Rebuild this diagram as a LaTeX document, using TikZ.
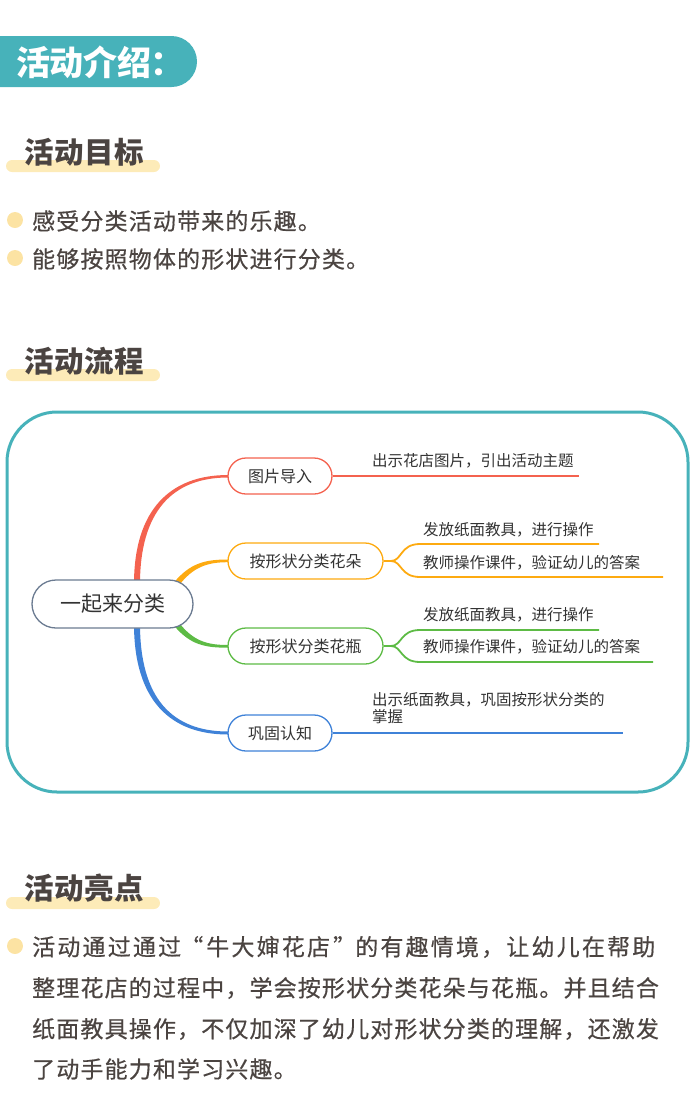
\documentclass[tikz,border=0pt]{standalone}
\usepackage{fontspec}
\newfontfamily\cjk{Noto Sans CJK SC}
\newfontfamily\cjkbody[LetterSpace=5,FakeBold=0.5]{Noto Sans CJK SC}
\newfontfamily\cjkbodywide[LetterSpace=9.5,FakeBold=0.5]{Noto Sans CJK SC}
\newfontfamily\cjkhead[LetterSpace=2]{Noto Sans CJK SC}
\newfontfamily\cjktitle[LetterSpace=-1]{Noto Sans CJK SC}
\newcommand{\myopenq}{\makebox[25.2pt][r]{“\hspace{3pt}}}
\newcommand{\mycloseq}{\makebox[25.2pt][l]{\hspace{3pt}”}}
\definecolor{tealc}{HTML}{47B2BA}
\definecolor{barc}{HTML}{FDEBB8}
\definecolor{dotc}{HTML}{FCE3A3}
\definecolor{textc}{HTML}{4B4441}
\definecolor{mapt}{HTML}{333333}
\definecolor{cred}{HTML}{F4624F}
\definecolor{corange}{HTML}{FDAA10}
\definecolor{cgreen}{HTML}{5DBB45}
\definecolor{cblue}{HTML}{3F82D8}
\definecolor{cgray}{HTML}{6B7B91}
\tikzset{
  heading/.style={font=\cjkhead\bfseries\fontsize{29.5}{29.5}\selectfont, text=textc, anchor=west, inner sep=0},
  headbar/.style={fill=barc, rounded corners=6},
  bodytext/.style={font=\cjkbody\fontsize{23}{23}\selectfont, text=textc, anchor=west, inner sep=0},
  dotmark/.style={fill=dotc, circle, minimum size=16, inner sep=0},
  branch/.style={draw=#1, fill=white, line width=1.3, rounded corners=18, minimum height=36, inner sep=0, font=\cjk\fontsize{16}{16}\selectfont, text=mapt},
  leaf/.style={font=\cjk\fontsize{15.5}{17}\selectfont, text=mapt, anchor=west, inner sep=0, align=left},
  leafline/.style={draw=#1, line width=1.8},
}
\begin{document}
\begin{tikzpicture}[x=1pt,y=-1pt]
\useasboundingbox (0,0) rectangle (700,1120);

% title banner
\fill[tealc, rounded corners=25.5] (-40,36) rectangle (197,87);
\node[font=\cjktitle\bfseries\fontsize{34}{34}\selectfont, text=white, anchor=west, inner sep=0] (title) at (16,62) {活动介绍：};

% section 1
\fill[headbar] (6,160) rectangle (160,172);
\node[heading] (h1) at (24,152) {活动目标};
\node[dotmark] (d1) at (15,220) {};
\node[bodytext] (b1) at (32,221) {感受分类活动带来的乐趣。};
\node[dotmark] (d2) at (15,258) {};
\node[bodytext] (b2) at (32,259) {能够按照物体的形状进行分类。};

% section 2
\fill[headbar] (6,369) rectangle (160,381);
\node[heading] (h2) at (24,361) {活动流程};

\draw[tealc, line width=3, rounded corners=50] (7,412) rectangle (688,792);

% tapered main connectors
\fill[cred] (134,584) .. controls (134,510) and (170,475) .. (228,475) -- (228,477.5) .. controls (172,477.5) and (140,512) .. (140,584) -- cycle;
\fill[corange] (173.5,583) .. controls (190,563) and (205,559.5) .. (228,559.5) -- (228,562.2) .. controls (207,562.2) and (193,567) .. (178.5,586) -- cycle;
\fill[cgreen] (173.5,625) .. controls (190,645) and (205,647.7) .. (228,647.7) -- (228,645) .. controls (207,645) and (193,641) .. (178.5,622) -- cycle;
\fill[cblue] (134,624) .. controls (134,700) and (170,734.5) .. (228,734.5) -- (228,731.5) .. controls (172,731.5) and (140,698) .. (140,624) -- cycle;

% nodes
\node[draw=cgray, fill=white, line width=1.3, rounded corners=24, minimum width=161, minimum height=48, inner sep=0, font=\cjk\fontsize{21}{21}\selectfont, text=mapt] (root) at (112.5,604) {一起来分类};
\node[branch=cred, minimum width=104] (n1) at (280,476) {图片导入};
\node[branch=corange, minimum width=155] (n2) at (305.5,561) {按形状分类花朵};
\node[branch=cgreen, minimum width=155] (n3) at (305.5,646) {按形状分类花瓶};
\node[branch=cblue, minimum width=104] (n4) at (280,733) {巩固认知};

% leaf 1
\coordinate (e1) at (579,476);
\draw[leafline=cred] (n1.east) -- (e1);
\node[leaf] (l1) at (372,461) {出示花店图片，引出活动主题};

% leaf 2 (flowers)
\coordinate (j2) at (391,561);
\coordinate (e2a) at (599,544);
\coordinate (e2b) at (663,577);
\draw[leafline=corange] (n2.east) -- (j2) .. controls (402,561) and (400,544) .. (420,544) -- (e2a);
\draw[leafline=corange] (j2) .. controls (402,561) and (400,577) .. (420,577) -- (e2b);
\node[leaf] (l2a) at (423,530) {发放纸面教具，进行操作};
\node[leaf] (l2b) at (423,563) {教师操作课件，验证幼儿的答案};

% leaf 3 (vases)
\coordinate (j3) at (391,646);
\coordinate (e3a) at (599,630);
\coordinate (e3b) at (653,662);
\draw[leafline=cgreen] (n3.east) -- (j3) .. controls (402,646) and (400,630) .. (420,630) -- (e3a);
\draw[leafline=cgreen] (j3) .. controls (402,646) and (400,662) .. (420,662) -- (e3b);
\node[leaf] (l3a) at (423,615) {发放纸面教具，进行操作};
\node[leaf] (l3b) at (423,647) {教师操作课件，验证幼儿的答案};

% leaf 4
\coordinate (e4) at (623,733);
\draw[leafline=cblue] (n4.east) -- (e4);
\node[leaf, anchor=north west] (l4) at (372,692) {出示纸面教具，巩固按形状分类的\\掌握};

% section 3
\fill[headbar] (6,897) rectangle (160,909);
\node[heading] (h3) at (24,888) {活动亮点};
\node[dotmark] (d3) at (15,946) {};
\node[bodytext, font=\cjkbodywide\fontsize{23}{23}\selectfont] (p1) at (32,947) {活动通过通过\myopenq 牛大婶花店\mycloseq 的有趣情境，让幼儿在帮助};
\node[bodytext] (p2) at (32,988) {整理花店的过程中，学会按形状分类花朵与花瓶。并且结合};
\node[bodytext] (p3) at (32,1029) {纸面教具操作，不仅加深了幼儿对形状分类的理解，还激发};
\node[bodytext] (p4) at (32,1069) {了动手能力和学习兴趣。};
\end{tikzpicture}
\end{document}
